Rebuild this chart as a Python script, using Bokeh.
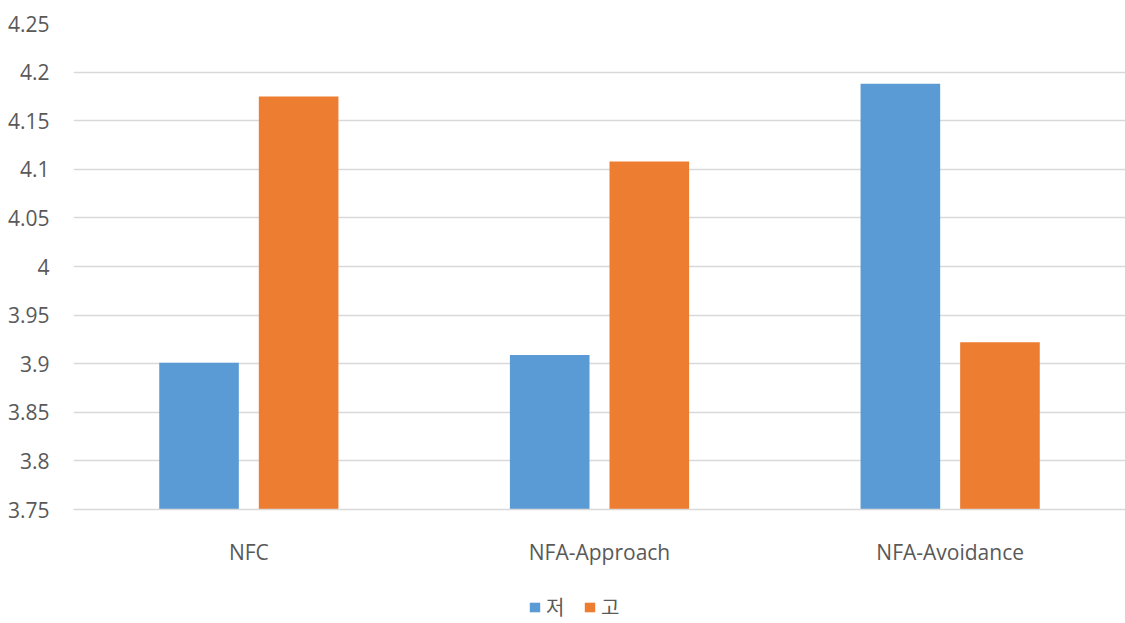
from bokeh.plotting import figure
from bokeh.layouts import column
from bokeh.models import (ColumnDataSource, FactorRange, Range1d, FixedTicker,
                          Legend, LegendItem)
from bokeh.transform import dodge
from bokeh.embed import file_html
from bokeh.resources import INLINE

# Data
categories = ["NFC", "NFA-Approach", "NFA-Avoidance"]
low_values = [3.901, 3.909, 4.188]    # 저
high_values = [4.175, 4.108, 3.922]   # 고
series_names = ["저", "고"]
y_ticks = [3.75, 3.8, 3.85, 3.9, 3.95, 4.0, 4.05, 4.1, 4.15, 4.2, 4.25]
y_tick_labels = ["3.75", "3.8", "3.85", "3.9", "3.95", "4", "4.05", "4.1",
                 "4.15", "4.2", "4.25"]

BLUE = "#5b9bd5"
ORANGE = "#ed7d31"
TEXT = "#595959"
GRID = "#d9d9d9"
FONT = "Open Sans"

source = ColumnDataSource(dict(cat=categories, low=low_values, high=high_values))

p = figure(x_range=FactorRange(*categories), y_range=Range1d(3.75, 4.25),
           width=1125, height=580, output_backend="svg", toolbar_location=None,
           min_border_left=73, min_border_right=0, min_border_top=23,
           min_border_bottom=71)
p.x_range.range_padding = 0
p.outline_line_color = None
p.background_fill_color = "white"

r_low = p.vbar(x=dodge("cat", -0.142, range=p.x_range), top="low", bottom=3.75,
               width=0.227, source=source, fill_color=BLUE, line_color=None)
r_high = p.vbar(x=dodge("cat", 0.142, range=p.x_range), top="high", bottom=3.75,
                width=0.227, source=source, fill_color=ORANGE, line_color=None)

# Axes
p.yaxis.ticker = FixedTicker(ticks=y_ticks)
p.yaxis.major_label_overrides = {t: l for t, l in zip(y_ticks, y_tick_labels)}
p.yaxis.axis_line_color = None
p.yaxis.major_tick_line_color = None
p.yaxis.minor_tick_line_color = None
p.yaxis.major_label_text_font = FONT
p.yaxis.major_label_text_font_size = "21px"
p.yaxis.major_label_text_color = TEXT
p.yaxis.major_label_standoff = 18

p.xaxis.axis_line_color = GRID
p.xaxis.axis_line_width = 1.5
p.xaxis.major_tick_line_color = None
p.xaxis.minor_tick_line_color = None
p.xaxis.major_label_text_font = FONT
p.xaxis.major_label_text_font_size = "21px"
p.xaxis.major_label_text_color = TEXT
p.xaxis.major_label_standoff = 22

p.xgrid.grid_line_color = None
p.ygrid.grid_line_color = GRID
p.ygrid.grid_line_width = 1.5

# Legend strip underneath the chart
leg = figure(width=1125, height=43, output_backend="svg", toolbar_location=None,
             min_border=0, x_range=Range1d(0, 1), y_range=Range1d(0, 1),
             x_axis_location=None, y_axis_location=None)
leg.grid.visible = False
leg.outline_line_color = None
# swatch glyphs live outside the visible range; only their legend keys show
hidden = ColumnDataSource(dict(x=[-5.0], top=[-5.0]))
k_low = leg.vbar(x="x", top="top", bottom=-6, width=0.1, source=hidden,
                 fill_color=BLUE, line_color=None)
k_high = leg.vbar(x="x", top="top", bottom=-6, width=0.1, source=hidden,
                  fill_color=ORANGE, line_color=None)
legend = Legend(items=[LegendItem(label=series_names[0], renderers=[k_low]),
                       LegendItem(label=series_names[1], renderers=[k_high])],
                orientation="horizontal", location=(455, 2),
                label_text_font="Noto Sans CJK KR", label_text_font_size="20px",
                label_text_color=TEXT, glyph_width=13, glyph_height=12,
                label_standoff=5, spacing=17, border_line_color=None,
                background_fill_alpha=0, margin=0, padding=2)
leg.add_layout(legend, "center")

layout = column(p, leg, spacing=0)
open("out.html", "w").write(file_html(layout, INLINE))
